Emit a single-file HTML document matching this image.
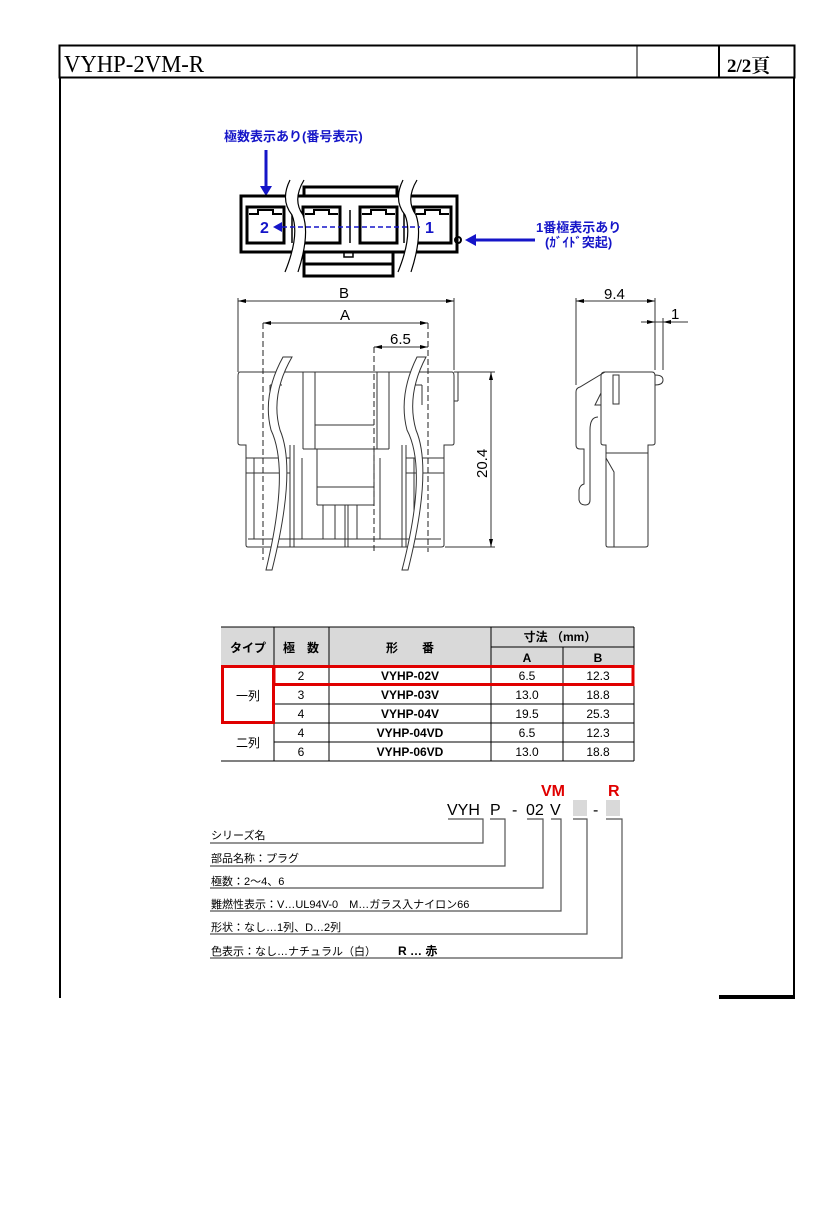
<!DOCTYPE html>
<html><head><meta charset="utf-8"><style>
body{margin:0;background:#fff;}
svg text{font-family:"Liberation Sans","Noto Sans CJK JP",sans-serif;}
</style></head><body>
<svg width="827" height="1205" xmlns="http://www.w3.org/2000/svg">
<!-- frame -->
<g stroke="#000" fill="none" stroke-width="2">
<rect x="59.5" y="45.5" width="735" height="32"/>
<line x1="637" y1="45" x2="637" y2="77" stroke-width="1"/>
<line x1="719" y1="45" x2="719" y2="77"/>
<line x1="60" y1="77" x2="60" y2="998"/>
<line x1="794" y1="77" x2="794" y2="998"/>
<line x1="719" y1="997" x2="795" y2="997" stroke-width="4"/>
</g>
<text x="64" y="72" font-size="24" textLength="140" lengthAdjust="spacingAndGlyphs" style="font-family:'Liberation Serif','Noto Serif CJK SC',serif">VYHP-2VM-R</text>
<text x="727" y="72" font-size="19" font-weight="bold" style="font-family:'Liberation Serif','Noto Serif CJK SC',serif">2/2頁</text>

<!-- top view -->
<text x="224" y="141" font-size="13" font-weight="bold" fill="#1515c8">極数表示あり(番号表示)</text>
<line x1="266" y1="150" x2="266" y2="188" stroke="#1515c8" stroke-width="3"/>
<polygon points="260,186 272,186 266,196" fill="#1515c8"/>
<g stroke="#000" stroke-width="3" fill="#fff">
<rect x="304" y="187" width="93" height="10"/>
<rect x="241" y="196" width="216" height="56"/>
<rect x="304" y="252" width="89" height="24"/>
<rect x="247" y="207" width="37" height="36"/>
<rect x="303" y="207" width="37" height="36"/>
<rect x="360" y="207" width="37" height="36"/>
<rect x="414" y="207" width="37" height="36"/>
</g>
<g stroke="#000" stroke-width="2" fill="none">
<polyline points="249,214 258,214 258,210 273,210 273,214 282,214"/>
<polyline points="305,214 314,214 314,210 329,210 329,214 338,214"/>
<polyline points="362,214 371,214 371,210 386,210 386,214 395,214"/>
<polyline points="416,214 425,214 425,210 440,210 440,214 449,214"/>
</g>
<line x1="304" y1="264" x2="393" y2="264" stroke="#000" stroke-width="3"/>
<rect x="344" y="252" width="9" height="5" fill="none" stroke="#000" stroke-width="1.5"/>
<g stroke="#000" stroke-width="1.5" fill="none">
<line x1="292" y1="210" x2="292" y2="243"/><line x1="350" y1="210" x2="350" y2="243"/><line x1="404" y1="210" x2="404" y2="243"/>
</g>
<g stroke="#000" fill="#fff" stroke-width="1.2">
<path d="M290,180 Q280,200 292,215 Q300,235 285,272 L298,272 Q310,235 303,215 Q292,200 304,180 Z" stroke="none"/>
<path d="M290,180 Q280,200 292,215 Q300,235 285,272 M304,180 Q292,200 303,215 Q310,235 298,272" fill="none"/>
<path d="M403,180 Q393,200 405,215 Q413,235 398,272 L411,272 Q423,235 416,215 Q405,200 417,180 Z" stroke="none"/>
<path d="M403,180 Q393,200 405,215 Q413,235 398,272 M417,180 Q405,200 416,215 Q423,235 411,272" fill="none"/>
</g>
<line x1="282" y1="227" x2="420" y2="227" stroke="#1515c8" stroke-width="1.5" stroke-dasharray="5,3"/>
<polygon points="273,227 282,222 282,232" fill="#1515c8"/>
<text x="260" y="233" font-size="16" font-weight="bold" fill="#1515c8">2</text>
<text x="425" y="233" font-size="16" font-weight="bold" fill="#1515c8">1</text>
<circle cx="458" cy="240" r="3" fill="none" stroke="#000" stroke-width="2"/>
<line x1="474" y1="240" x2="535" y2="240" stroke="#1515c8" stroke-width="3"/>
<polygon points="465,240 476,234 476,246" fill="#1515c8"/>
<text x="536" y="232" font-size="13" font-weight="bold" fill="#1515c8">1番極表示あり</text>
<text x="545" y="247" font-size="13" font-weight="bold" fill="#1515c8">(ｶﾞｲﾄﾞ突起)</text>

<!-- front view -->
<g stroke="#333" stroke-width="1" fill="none">
<line x1="238" y1="298" x2="238" y2="372"/><line x1="454" y1="298" x2="454" y2="370"/>
<line x1="238" y1="301" x2="454" y2="301"/>
<line x1="263" y1="323" x2="428" y2="323"/>
<line x1="374" y1="347" x2="428" y2="347"/>
<line x1="458" y1="372" x2="495" y2="372"/><line x1="445" y1="547" x2="495" y2="547"/>
<line x1="491" y1="372" x2="491" y2="547"/>
<path d="M240,372 H452 Q454,372 454,376 V443 Q454,445 452,445 H444 V545 Q444,547 441,547 H248 Q246,547 246,545 V445 H241 Q238,445 238,443 V376 Q238,372 240,372 Z"/>
<line x1="454" y1="372" x2="458" y2="372"/><line x1="458" y1="372" x2="458" y2="401"/><line x1="454" y1="401" x2="458" y2="401"/>
<line x1="303" y1="372" x2="303" y2="449"/><line x1="315" y1="372" x2="315" y2="449"/>
<line x1="377" y1="372" x2="377" y2="449"/><line x1="389" y1="372" x2="389" y2="449"/>
<line x1="303" y1="449" x2="389" y2="449"/>
<line x1="315" y1="425" x2="374" y2="425"/>
<line x1="317" y1="449" x2="317" y2="505"/><line x1="374" y1="449" x2="374" y2="505"/>
<line x1="317" y1="487" x2="374" y2="487"/><line x1="317" y1="505" x2="374" y2="505"/>
<line x1="290" y1="445" x2="290" y2="547"/><line x1="294" y1="445" x2="294" y2="547"/>
<line x1="345" y1="505" x2="345" y2="547"/><line x1="348" y1="505" x2="348" y2="547"/>
<line x1="402" y1="445" x2="402" y2="547"/><line x1="406" y1="445" x2="406" y2="547"/>
<line x1="254" y1="458" x2="254" y2="539"/><line x1="302" y1="458" x2="302" y2="539"/>
<line x1="323" y1="505" x2="323" y2="539"/><line x1="335" y1="505" x2="335" y2="539"/>
<line x1="357" y1="505" x2="357" y2="539"/><line x1="380" y1="458" x2="380" y2="539"/>
<line x1="414" y1="458" x2="414" y2="539"/>
<line x1="246" y1="458" x2="290" y2="458"/><line x1="246" y1="473" x2="290" y2="473"/>
<line x1="406" y1="458" x2="444" y2="458"/><line x1="406" y1="473" x2="444" y2="473"/>
<line x1="248" y1="539" x2="441" y2="539"/>
<line x1="270" y1="385" x2="282" y2="385"/><line x1="270" y1="385" x2="270" y2="405"/>
<line x1="408" y1="385" x2="422" y2="385"/><line x1="422" y1="385" x2="422" y2="405"/>
</g>
<g stroke="#222" stroke-width="1" stroke-dasharray="6,3">
<line x1="263" y1="323" x2="263" y2="560"/><line x1="374" y1="347" x2="374" y2="552"/><line x1="428" y1="323" x2="428" y2="552"/>
</g>
<g fill="#fff" stroke="#333" stroke-width="1">
<path d="M283,357 Q262,395 271,430 Q290,470 266,570 L272,570 Q297,470 280,430 Q270,395 292,357 Z"/>
<path d="M417,357 Q398,395 407,430 Q428,470 402,570 L408,570 Q433,470 416,430 Q406,395 426,357 Z"/>
</g>
<g fill="#000"><polygon points="238,301 246,299 246,303"/><polygon points="454,301 446,299 446,303"/>
<polygon points="263,323 271,321 271,325"/><polygon points="428,323 420,321 420,325"/>
<polygon points="374,347 382,345 382,349"/><polygon points="428,347 420,345 420,349"/>
<polygon points="491,372 489,380 493,380"/><polygon points="491,547 489,539 493,539"/></g>
<text x="339" y="298" font-size="15">B</text>
<text x="340" y="320" font-size="15">A</text>
<text x="390" y="344" font-size="15">6.5</text>
<text x="487" y="478" font-size="15" transform="rotate(-90 487 478)">20.4</text>

<!-- side view -->
<g stroke="#333" stroke-width="1" fill="none">
<line x1="576" y1="298" x2="576" y2="385"/><line x1="655" y1="298" x2="655" y2="370"/><line x1="663" y1="318" x2="663" y2="370"/>
<line x1="576" y1="301" x2="655" y2="301"/>
<line x1="641" y1="322" x2="688" y2="322"/>
<path d="M605,372 H652 Q655,372 655,376 V443 Q655,445 652,445 H648 V545 Q648,547 645,547 H608 Q606,547 606,545 V445 H604 Q601,445 601,443 V376 Q601,372 605,372 Z"/>
<path d="M655,375 Q663,375 663,380 Q663,385 655,385"/>
<path d="M605,372 L580,387 Q576,388 576,392 V445 Q576,449 580,449 H584 V484 Q580,485 579,490 V500 Q580,505 585,505 Q590,505 590,500 V430 Q590,417 598,417"/>
<path d="M601,393 L595,405 H601"/>
<rect x="613" y="375" width="6" height="29"/>
<line x1="606" y1="453" x2="648" y2="453"/>
<path d="M606,458 L614,472 V547"/>
</g>
<g fill="#000"><polygon points="576,301 584,299 584,303"/><polygon points="655,301 647,299 647,303"/>
<polygon points="655,322 647,320 647,324"/><polygon points="663,322 671,320 671,324"/></g>
<text x="604" y="299" font-size="15">9.4</text>
<text x="671" y="319" font-size="15">1</text>

<!-- table -->
<rect x="221" y="627" width="413" height="39" fill="#d9d9d9"/>
<g stroke="#000" stroke-width="1" fill="none">
<line x1="221" y1="627" x2="634" y2="627"/>
<line x1="491" y1="647" x2="634" y2="647"/>
<line x1="221" y1="666" x2="634" y2="666"/>
<line x1="274" y1="685" x2="634" y2="685"/>
<line x1="274" y1="704" x2="634" y2="704"/>
<line x1="221" y1="723" x2="634" y2="723"/>
<line x1="274" y1="742" x2="634" y2="742"/>
<line x1="221" y1="761" x2="634" y2="761"/>
<line x1="274" y1="627" x2="274" y2="761"/>
<line x1="329" y1="627" x2="329" y2="761"/>
<line x1="491" y1="627" x2="491" y2="761"/>
<line x1="563" y1="647" x2="563" y2="761"/>
<line x1="634" y1="627" x2="634" y2="761"/>
</g>
<g stroke="#e00000" stroke-width="3" fill="none">
<rect x="222.5" y="666.5" width="51" height="56"/>
<rect x="274" y="666.5" width="359" height="18"/>
</g>
<g font-size="12" text-anchor="middle">
<text x="248" y="652" font-weight="bold">タイプ</text>
<text x="301" y="652" font-weight="bold">極　数</text>
<text x="410" y="652" font-weight="bold">形　　番</text>
<text x="560" y="641" font-weight="bold">寸法 （mm）</text>
<text x="527" y="662" font-weight="bold">A</text><text x="598" y="662" font-weight="bold">B</text>
<text x="248" y="700">一列</text><text x="248" y="747">二列</text>
<text x="301" y="680">2</text><text x="301" y="699">3</text><text x="301" y="718">4</text><text x="301" y="737">4</text><text x="301" y="756">6</text>
<g font-weight="bold"><text x="410" y="680">VYHP-02V</text><text x="410" y="699">VYHP-03V</text><text x="410" y="718">VYHP-04V</text><text x="410" y="737">VYHP-04VD</text><text x="410" y="756">VYHP-06VD</text></g>
<text x="527" y="680">6.5</text><text x="527" y="699">13.0</text><text x="527" y="718">19.5</text><text x="527" y="737">6.5</text><text x="527" y="756">13.0</text>
<text x="598" y="680">12.3</text><text x="598" y="699">18.8</text><text x="598" y="718">25.3</text><text x="598" y="737">12.3</text><text x="598" y="756">18.8</text>
</g>

<!-- part number legend -->
<text x="541" y="796" font-size="16" font-weight="bold" fill="#e00000">VM</text>
<text x="608" y="796" font-size="16" font-weight="bold" fill="#e00000">R</text>
<text x="447" y="815" font-size="16">VYH</text>
<text x="490" y="815" font-size="16">P</text>
<text x="512" y="815" font-size="16">-</text>
<text x="526" y="815" font-size="16">02</text>
<text x="550" y="815" font-size="16">V</text>
<rect x="573" y="800" width="14" height="16" fill="#d9d9d9"/>
<text x="593" y="815" font-size="16">-</text>
<rect x="606" y="800" width="14" height="16" fill="#d9d9d9"/>
<g stroke="#555" stroke-width="1.2" fill="none">
<polyline points="448,819 483,819 483,843 210,843"/>
<polyline points="490,819 505,819 505,866 210,866"/>
<polyline points="527,819 543,819 543,888 210,888"/>
<polyline points="551,819 561,819 561,911 210,911"/>
<polyline points="573,819 587,819 587,934 210,934"/>
<polyline points="606,819 622,819 622,958 210,958"/>
</g>
<g font-size="11">
<text x="211" y="839">シリーズ名</text>
<text x="211" y="862">部品名称：プラグ</text>
<text x="211" y="885">極数：2～4、6</text>
<text x="211" y="908">難燃性表示：V…UL94V-0　M…ガラス入ナイロン66</text>
<text x="211" y="931">形状：なし…1列、D…2列</text>
<text x="211" y="955">色表示：なし…ナチュラル（白）</text>
<text x="398" y="955" font-weight="bold" font-size="12">R … 赤</text>
</g>
</svg>
</body></html>
